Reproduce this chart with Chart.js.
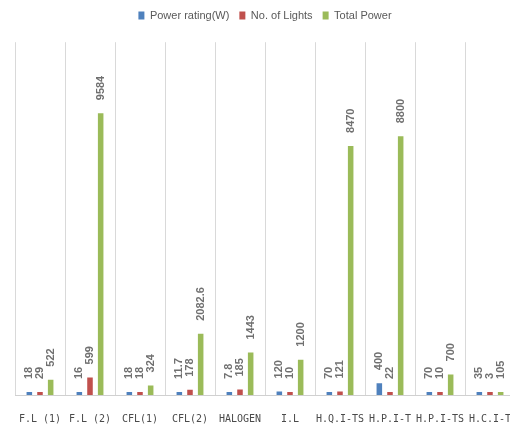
<!DOCTYPE html>
<html>
<head>
<meta charset="utf-8">
<script src="https://cdn.jsdelivr.net/npm/chart.js@4/dist/chart.umd.min.js"></script>
<style>
html{overflow:hidden;}
html,body{margin:0;padding:0;background:#fff;}
body{width:520px;height:430px;overflow:hidden;}
#c{display:block;width:520px;height:430px;}
</style>
</head>
<body>
<canvas id="c" width="520" height="430"></canvas>
<script>
const categories = ["F.L (1)","F.L (2)","CFL(1)","CFL(2)","HALOGEN","I.L","H.Q.I-TS","H.P.I-T","H.P.I-TS","H.C.I-T"];
const powerRating = [18,16,18,11.7,7.8,120,70,400,70,35];
const noOfLights = [29,599,18,178,185,10,121,22,10,3];
const totalPower = [522,9584,324,2082.6,1443,1200,8470,8800,700,105];

const labelPlugin = {
  id: 'rotLabels',
  afterDatasetsDraw(chart) {
    const ctx = chart.ctx;
    ctx.save();
    ctx.fillStyle = '#707070';
    ctx.font = 'bold 11px "Liberation Sans", Arial, sans-serif';
    ctx.textAlign = 'left';
    ctx.textBaseline = 'middle';
    chart.data.datasets.forEach((ds, di) => {
      const meta = chart.getDatasetMeta(di);
      meta.data.forEach((el, i) => {
        ctx.save();
        ctx.translate(el.x, el.y - 13);
        ctx.rotate(-Math.PI / 2);
        ctx.fillText(String(ds.data[i]), 0, 0);
        ctx.restore();
      });
    });
    ctx.restore();
  }
};

new Chart(document.getElementById('c'), {
  type: 'bar',
  data: {
    labels: categories,
    datasets: [
      {label: 'Power rating(W)', data: powerRating, backgroundColor: '#4F81BD'},
      {label: 'No. of Lights', data: noOfLights, backgroundColor: '#C0504D'},
      {label: 'Total Power', data: totalPower, backgroundColor: '#9BBB59'}
    ]
  },
  options: {
    responsive: false,
    animation: false,
    devicePixelRatio: 1,
    layout: {padding: {left: 15, right: 5, top: 0, bottom: 0}},
    datasets: {bar: {categoryPercentage: 0.64, barPercentage: 0.52, minBarLength: 3}},
    plugins: {
      legend: {
        position: 'top',
        align: 'center',
        weight: 3000,
        labels: {
          boxWidth: 6, boxHeight: 8, padding: 10,
          color: '#595959',
          font: {family: '"Liberation Sans", Arial, sans-serif', size: 11}
        }
      },
      title: {
        display: true, text: ' ', position: 'top', weight: 100,
        font: {size: 1}, padding: {top: 0, bottom: 10}
      },
      tooltip: {enabled: false}
    },
    scales: {
      x: {
        grid: {display: true, offset: true, color: '#d9d9d9', drawTicks: false, lineWidth: 1},
        border: {display: true, color: '#d0d0d0'},
        ticks: {
          color: '#4a4a4a', padding: 18, maxRotation: 0, autoSkip: false,
          font: {family: '"DejaVu Sans Mono", monospace', size: 10}
        },
        afterFit: (s) => { s.paddingLeft = 0; s.paddingRight = 0; s.height = 35; }
      },
      y: {
        display: false,
        min: 0, max: 12000
      }
    }
  },
  plugins: [labelPlugin]
});
</script>
</body>
</html>
